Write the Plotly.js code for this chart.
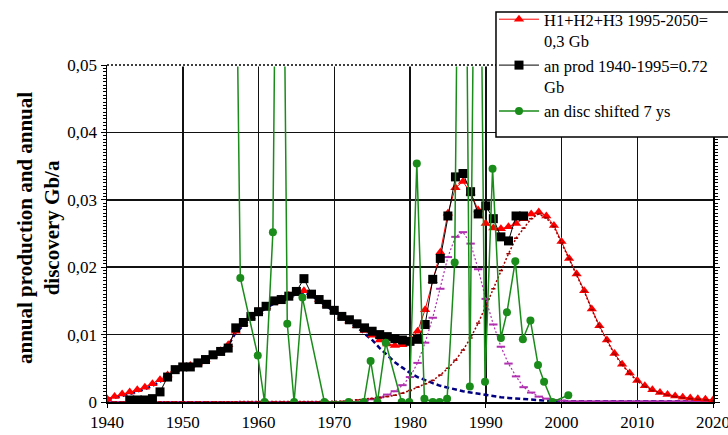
<!DOCTYPE html>
<html>
<head>
<meta charset="utf-8">
<script src="https://cdn.plot.ly/plotly-3.0.1.min.js"></script>
<style>html,body{margin:0;padding:0;background:#fff;}#chart{width:728px;height:435px;}</style>
</head>
<body>
<div id="chart"></div>
<script>
// Years 1940..2020 (model curves)
const years = [1940,1941,1942,1943,1944,1945,1946,1947,1948,1949,1950,1951,1952,1953,1954,1955,1956,1957,1958,1959,1960,1961,1962,1963,1964,1965,1966,1967,1968,1969,1970,1971,1972,1973,1974,1975,1976,1977,1978,1979,1980,1981,1982,1983,1984,1985,1986,1987,1988,1989,1990,1991,1992,1993,1994,1995,1996,1997,1998,1999,2000,2001,2002,2003,2004,2005,2006,2007,2008,2009,2010,2011,2012,2013,2014,2015,2016,2017,2018,2019,2020];

// H1+H2+H3 (red triangles)
const hSum = [0.0005,0.0008,0.0012,0.0015,0.0018,0.0022,0.0027,0.0033,0.0040,0.0048,0.0052,0.0054,0.0058,0.0063,0.0069,0.0076,0.0085,0.0105,0.0116,0.0126,0.0134,0.0141,0.0148,0.0153,0.0158,0.0162,0.0165,0.0160,0.0152,0.0144,0.0135,0.0127,0.0120,0.0113,0.0106,0.0099,0.0092,0.0086,0.0084,0.0085,0.0092,0.0105,0.0137,0.0180,0.0222,0.0280,0.0318,0.0327,0.0310,0.0285,0.0265,0.0258,0.0257,0.0260,0.0265,0.0272,0.0279,0.0282,0.0276,0.0262,0.0238,0.0213,0.0190,0.0165,0.0138,0.0113,0.0092,0.0072,0.0056,0.0043,0.0032,0.0024,0.0018,0.0014,0.0011,0.0009,0.0007,0.0006,0.0005,0.0004,0.0003];

// H1 (blue), H2 (magenta), H3 (dark red)
const h1 = [0.0004,0.0006,0.0009,0.0012,0.0015,0.0019,0.0024,0.0030,0.0038,0.0046,0.0051,0.0053,0.0057,0.0062,0.0068,0.0075,0.0084,0.0103,0.0114,0.0124,0.0132,0.0139,0.0146,0.0151,0.0156,0.0160,0.0162,0.0158,0.0150,0.0142,0.0133,0.0125,0.0118,0.0111,0.0102,0.0092,0.0080,0.0069,0.0059,0.0051,0.0043,0.0037,0.0032,0.0028,0.0024,0.0021,0.0018,0.0016,0.0014,0.0012,0.0010,0.0009,0.0007,0.0006,0.0005,0.0004,0.0004,0.0003,0.0002,0.0002,0.0001,0.0001,0.0001,0.0001,0.0001,0.0001,0.0001,0.0001,0.0001,0.0001,0.0001,0.0001,0.0001,0.0001,0.0001,0.0001,0.0001,0.0001,0.0001,0.0001,0.0001];
const h2 = [0,0,0,0,0,0,0,0,0,0,0,0,0,0,0,0,0,0,0,0,0,0,0,0,0,0,0,0,0,0,0,0,0,0,0.0002,0.0004,0.0007,0.0011,0.0016,0.0025,0.0037,0.0058,0.0088,0.0125,0.0168,0.0215,0.0245,0.0252,0.0235,0.0197,0.0153,0.0115,0.0082,0.0057,0.0038,0.0022,0.0014,0.0008,0.0005,0.0003,0.0002,0.0001,0.0001,0.0001,0.0001,0.0001,0.0001,0.0001,0.0001,0.0001,0.0001,0.0001,0.0001,0.0001,0.0001,0.0001,0.0001,0.0001,0.0001,0.0001,0.0001];
const h3 = [0,0,0,0,0,0,0,0,0,0,0,0,0,0,0,0,0,0,0,0,0,0,0,0,0,0,0,0,0,0,0,0.0001,0.0002,0.0003,0.0004,0.0005,0.0006,0.0008,0.0010,0.0013,0.0017,0.0022,0.0027,0.0032,0.0040,0.0050,0.0062,0.0077,0.0095,0.0117,0.0142,0.0168,0.0195,0.0220,0.0243,0.0258,0.0272,0.0279,0.0273,0.0260,0.0236,0.0212,0.0189,0.0164,0.0137,0.0112,0.0091,0.0071,0.0055,0.0042,0.0031,0.0023,0.0017,0.0013,0.0010,0.0008,0.0006,0.0005,0.0004,0.0003,0.0002];

// Annual production 1943..1995 (black squares)
const prodYears = [1943,1944,1945,1946,1947,1948,1949,1950,1951,1952,1953,1954,1955,1956,1957,1958,1959,1960,1961,1962,1963,1964,1965,1966,1967,1968,1969,1970,1971,1972,1973,1974,1975,1976,1977,1978,1979,1980,1981,1982,1983,1984,1985,1986,1987,1988,1989,1990,1991,1992,1993,1994,1995];
const prod = [0.0003,0.0003,0.0003,0.0005,0.0015,0.0037,0.0048,0.0052,0.0052,0.0058,0.0063,0.0070,0.0075,0.0080,0.0110,0.0118,0.0127,0.0134,0.0142,0.0150,0.0152,0.0157,0.0164,0.0183,0.0160,0.0152,0.0145,0.0136,0.0127,0.0122,0.0116,0.0110,0.0105,0.0100,0.0097,0.0094,0.0092,0.0090,0.0093,0.0115,0.0182,0.0213,0.0276,0.0334,0.0339,0.0312,0.0279,0.0291,0.0272,0.0245,0.0239,0.0276,0.0276];

// Discovery shifted 7 years (green circles)
const discYears = [1956.8,1957.6,1959.9,1960.8,1961.9,1962.8,1963.8,1964.7,1965.8,1968.7,1971.9,1973.9,1974.8,1975.7,1976.8,1978.9,1979.9,1980.9,1981.9,1983.0,1983.9,1984.9,1985.9,1986.9,1987.9,1988.9,1989.9,1990.9,1992.0,1992.8,1993.9,1994.9,1995.9,1996.9,1997.7,1998.8,2000.9];
const disc = [0.093,0.0184,0.0069,0,0.0252,0.135,0.0116,0,0.0155,0,0,0,0.0061,0,0.0088,0,0,0.0354,0.0005,0,0,0.0005,0.0207,0.14,0.0023,0.12,0.003,0.0346,0.0095,0.0133,0.0209,0.0093,0.0121,0.0055,0.003,0,0.001];

const xTicks = [1940,1950,1960,1970,1980,1990,2000,2010,2020];

const serif = 'Liberation Serif';

const traces = [
  {x: years, y: h1, type:'scatter', mode:'lines', showlegend:false,
   line:{color:'#000080', width:2.5, dash:'5px,3px'}},
  {x: years, y: h2, type:'scatter', mode:'lines+markers', showlegend:false,
   line:{color:'#b030b0', width:1.2, dash:'2px,2px'},
   marker:{symbol:'line-ew-open', size:6, line:{color:'#ff00ff', width:2}}},
  {x: years, y: hSum, type:'scatter', mode:'lines+markers', name:'H1+H2+H3 1995-2050=<br>0,3 Gb', legendrank:1,
   line:{color:'#ff0000', width:1},
   marker:{symbol:'triangle-up', size:9, color:'#ff0000'}},
  {x: years, y: h3, type:'scatter', mode:'lines+markers', showlegend:false,
   line:{color:'#a00000', width:1.5, dash:'2px,2px'},
   marker:{symbol:'line-ew-open', size:3, line:{color:'#000', width:1.5}}},
  {x: prodYears, y: prod, type:'scatter', mode:'lines+markers', name:'an prod 1940-1995=0.72<br>Gb', legendrank:2,
   line:{color:'#000', width:1},
   marker:{symbol:'square', size:9, color:'#000'}},
  {x: discYears, y: disc, type:'scatter', mode:'lines+markers', name:'an disc shifted 7 ys', legendrank:3,
   line:{color:'#1a8c1a', width:1.5},
   marker:{symbol:'circle', size:8, color:'#1a8c1a'}}
];

const layout = {
  width:728, height:435,
  margin:{l:107, r:15, t:65, b:33, autoexpand:false},
  paper_bgcolor:'#fff', plot_bgcolor:'#fff',
  separators:', ',
  font:{family:serif, color:'#000', size:16},
  xaxis:{range:[1940,2020], tickvals:xTicks, showgrid:true, gridcolor:'#111', gridwidth:1.5,
    showline:true, linecolor:'#000', linewidth:1.5, ticks:'outside', ticklen:4, tickcolor:'#000',
    ticklabeloverflow:'allow', automargin:false,
    zeroline:false, tickfont:{family:serif, size:17, color:'#000'}},
  yaxis:{range:[0,0.05], dtick:0.01, tick0:0, showgrid:true, gridcolor:'#111', gridwidth:1.5,
    showline:true, linecolor:'#000', linewidth:1.5, mirror:'allticks', ticks:'outside', ticklen:5, tickcolor:'#000',
    minor:{dtick:0.0005, ticks:'outside', ticklen:3, tickcolor:'#000', showgrid:false}, automargin:false,
    zeroline:false, tickfont:{family:serif, size:17, color:'#000'}},
  legend:{x:0.6386, xanchor:'left', y:1.187, yanchor:'top', borderwidth:0,
    bgcolor:'rgba(0,0,0,0)', font:{family:serif, size:16.5, color:'#000'}, tracegroupgap:0, itemwidth:40, valign:'top'},
  shapes:[
    {type:'line', xref:'paper', yref:'paper', x0:0, x1:1, y0:1, y1:1, layer:'above', line:{color:'#fff', width:3}},
    {type:'line', xref:'paper', yref:'paper', x0:0, x1:1, y0:1, y1:1, layer:'above', line:{color:'#000', width:1.5, dash:'2px,2px'}},
    {type:'rect', xref:'paper', yref:'paper', x0:0.6419, x1:1.05, y0:0.786, y1:1.157, layer:'above',
     fillcolor:'#fff', line:{color:'#000', width:1.5}}
  ],
  annotations:[
    {text:'<b>annual production and annual<br>discovery Gb/a</b>', xref:'paper', yref:'paper',
     x:-0.114, y:0.516, textangle:-90, showarrow:false, xanchor:'center', yanchor:'middle',
     font:{family:serif, size:21, color:'#000'}}
  ]
};

Plotly.newPlot('chart', traces, layout, {displayModeBar:false, staticPlot:true});
</script>
</body>
</html>
